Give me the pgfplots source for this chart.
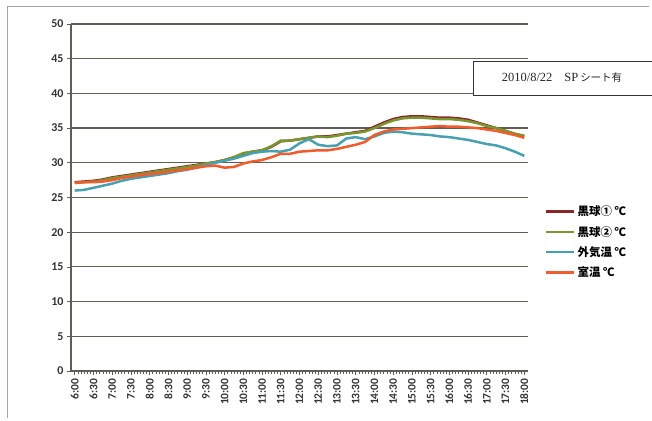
\documentclass[border=0pt]{standalone}
\usepackage{fontspec}
\usepackage{pgfplots}
\pgfplotsset{compat=1.18}
\setmainfont{Carlito}
\newfontfamily\jp{Noto Sans CJK JP}
\newfontfamily\serif{Liberation Serif}
\definecolor{cRed}{RGB}{140,38,40}
\definecolor{cGreen}{RGB}{122,150,48}
\definecolor{cTeal}{RGB}{72,160,176}
\definecolor{cOrange}{RGB}{240,92,44}
\definecolor{cGrid}{RGB}{96,94,84}
\begin{document}
\begin{tikzpicture}
\path[use as bounding box] (-71bp,-50bp) rectangle (581bp,371bp);
\draw[gray!70, line width=0.8bp] (578bp,365bp) -- (-64bp,365bp) -- (-64bp,-47bp);
\begin{axis}[
  at={(0,0)}, anchor=south west,
  scale only axis, width=457bp, height=347bp,
  xmin=5.9, xmax=18.1, ymin=0, ymax=50,
  axis x line=bottom, axis y line=left,
  axis line style={cGrid, line width=1.2bp, -},
  ytick={0,5,...,50},
  ymajorgrids, grid style={cGrid, line width=1.2bp},
  xtick={6,6.5,...,18},
  xticklabels={6:00,6:30,7:00,7:30,8:00,8:30,9:00,9:30,10:00,10:30,11:00,11:30,12:00,12:30,13:00,13:30,14:00,14:30,15:00,15:30,16:00,16:30,17:00,17:30,18:00},
  minor x tick num=5,
  tick align=outside,
  major tick length=4bp, minor tick length=3bp,
  tick style={cGrid, line width=0.6bp},
  x tick label style={rotate=90, anchor=east, font=\bfseries\fontsize{11.5}{12}\selectfont, text=black!80},
  y tick label style={font=\bfseries\fontsize{12}{12}\selectfont, text=black!80},
  /pgf/number format/assume math mode=true,
  legend style={at={(1.037,0.482)}, anchor=north west, draw=none, fill=none,
    font=\jp\bfseries\fontsize{11.5}{11.5}\selectfont, row sep=5bp, inner sep=0pt,
    /tikz/every even column/.append style={column sep=1bp}},
  legend cell align=left,
  legend image code/.code={\draw[#1, line width=2.6bp] (0bp,0bp) -- (28bp,0bp);},
  every axis plot/.append style={line width=2.5bp, line join=round},
  clip=false,
]
\addplot[cRed] table {
6.00 27.2
6.25 27.3
6.50 27.4
6.75 27.6
7.00 27.9
7.25 28.1
7.50 28.3
7.75 28.5
8.00 28.7
8.25 28.9
8.50 29.1
8.75 29.3
9.00 29.5
9.25 29.7
9.50 29.9
9.75 30.1
10.00 30.4
10.25 30.8
10.50 31.3
10.75 31.6
11.00 31.8
11.25 32.3
11.50 33.1
11.75 33.2
12.00 33.4
12.25 33.6
12.50 33.8
12.75 33.8
13.00 34.0
13.25 34.2
13.50 34.4
13.75 34.6
14.00 35.2
14.25 35.8
14.50 36.3
14.75 36.6
15.00 36.7
15.25 36.7
15.50 36.6
15.75 36.5
16.00 36.5
16.25 36.4
16.50 36.2
16.75 35.8
17.00 35.4
17.25 35.0
17.50 34.6
17.75 34.1
18.00 33.8
};
\addlegendentry{黒球① ℃}
\addplot[cGreen] table {
6.00 27.1
6.25 27.2
6.50 27.3
6.75 27.5
7.00 27.8
7.25 28.0
7.50 28.2
7.75 28.4
8.00 28.6
8.25 28.8
8.50 29.0
8.75 29.2
9.00 29.4
9.25 29.6
9.50 29.9
9.75 30.1
10.00 30.4
10.25 30.8
10.50 31.4
10.75 31.6
11.00 31.8
11.25 32.4
11.50 33.2
11.75 33.2
12.00 33.4
12.25 33.6
12.50 33.8
12.75 33.7
13.00 33.9
13.25 34.2
13.50 34.3
13.75 34.5
14.00 35.0
14.25 35.6
14.50 36.1
14.75 36.4
15.00 36.5
15.25 36.5
15.50 36.4
15.75 36.3
16.00 36.3
16.25 36.2
16.50 36.0
16.75 35.7
17.00 35.3
17.25 35.0
17.50 34.6
17.75 34.2
18.00 33.9
};
\addlegendentry{黒球② ℃}
\addplot[cTeal] table {
6.00 26.0
6.25 26.1
6.50 26.4
6.75 26.7
7.00 27.0
7.25 27.4
7.50 27.7
7.75 27.9
8.00 28.1
8.25 28.3
8.50 28.5
8.75 28.8
9.00 29.0
9.25 29.3
9.50 29.7
9.75 30.0
10.00 30.3
10.25 30.6
10.50 31.0
10.75 31.4
11.00 31.6
11.25 31.7
11.50 31.6
11.75 31.9
12.00 32.8
12.25 33.4
12.50 32.6
12.75 32.4
13.00 32.5
13.25 33.5
13.50 33.7
13.75 33.4
14.00 33.8
14.25 34.3
14.50 34.5
14.75 34.4
15.00 34.2
15.25 34.1
15.50 34.0
15.75 33.8
16.00 33.7
16.25 33.5
16.50 33.3
16.75 33.0
17.00 32.7
17.25 32.5
17.50 32.1
17.75 31.6
18.00 31.0
};
\addlegendentry{外気温 ℃}
\addplot[cOrange] table {
6.00 27.1
6.25 27.2
6.50 27.2
6.75 27.3
7.00 27.5
7.25 27.8
7.50 28.0
7.75 28.2
8.00 28.4
8.25 28.5
8.50 28.7
8.75 28.9
9.00 29.1
9.25 29.3
9.50 29.5
9.75 29.6
10.00 29.3
10.25 29.4
10.50 29.9
10.75 30.2
11.00 30.4
11.25 30.8
11.50 31.3
11.75 31.3
12.00 31.6
12.25 31.7
12.50 31.8
12.75 31.8
13.00 32.0
13.25 32.3
13.50 32.6
13.75 33.0
14.00 34.0
14.25 34.5
14.50 34.8
14.75 34.9
15.00 35.0
15.25 35.1
15.50 35.2
15.75 35.3
16.00 35.2
16.25 35.2
16.50 35.1
16.75 35.0
17.00 34.8
17.25 34.6
17.50 34.3
17.75 34.0
18.00 33.6
};
\addlegendentry{室温 ℃}
\end{axis}
\draw[black!80, line width=0.9bp, fill=white] (402bp,276bp) rectangle (600bp,310bp);
\node[anchor=center, text=black!85] at (491bp,293bp) {\serif\fontsize{12.5}{12.5}\selectfont 2010/8/22\hspace{12bp}SP\hspace{2bp}{\jp\fontsize{10.5}{11}\selectfont シート有}};
\end{tikzpicture}
\end{document}
